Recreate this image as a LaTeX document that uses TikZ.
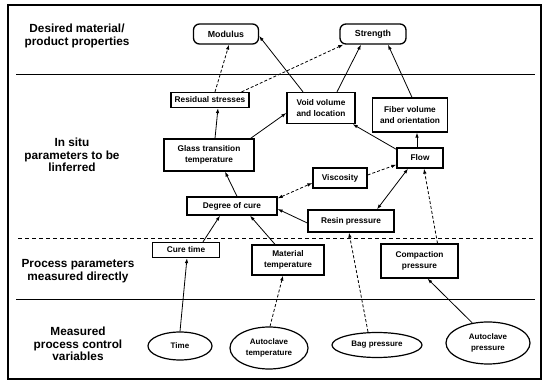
\documentclass[tikz,border=0pt]{standalone}
\usepackage{fontspec}
\setmainfont{Liberation Sans}
\usetikzlibrary{arrows.meta,shapes.geometric}
\begin{document}
\begin{tikzpicture}[x=1pt,y=-1pt,
  box/.style={draw, line width=1.3pt, inner sep=0pt, align=center, font=\bfseries\fontsize{8.3}{11.5}\selectfont},
  prop/.style={box, rounded corners=6pt, font=\bfseries\fontsize{8.8}{10}\selectfont},
  oval/.style={draw, ellipse, line width=1.2pt, inner sep=0pt, align=center, font=\bfseries\fontsize{8}{11}\selectfont},
  lbl/.style={align=center, font=\bfseries\fontsize{11.8}{12.5}\selectfont},
  arr/.style={-{Latex[length=5pt,width=3.5pt]}, line width=0.8pt},
  darr/.style={arr, dash pattern=on 3pt off 2pt},
  sep/.style={line width=0.9pt},
]
\useasboundingbox (0,0) rectangle (550,382);
\draw[line width=1.2pt] (8,5) rectangle (541,379);
\draw[sep] (16,74) -- (535,74);
\draw[sep, dash pattern=on 4pt off 3pt, line width=1pt] (18,239) -- (533,239);
\draw[sep] (16,299) -- (535,299);

% row labels
\node[lbl] (l1) at (77,36) {Desired material/\\product properties};
\node[lbl] (l2) at (72,155) {In situ\\parameters to be\\linferred};
\node[lbl] (l3) at (78,271) {Process parameters\\measured directly};
\node[lbl] (l4) at (78,344) {Measured\\process control\\variables};

% properties
\node[prop, minimum width=65pt, minimum height=20pt] (mod) at (226,34) {Modulus};
\node[prop, minimum width=66pt, minimum height=20pt] (str) at (373,34) {Strength};

% in situ
\node[box, minimum width=78pt, minimum height=15pt] (res) at (210,100) {Residual stresses};
\node[box, minimum width=68pt, minimum height=31pt] (void) at (321,108) {Void volume\\and location};
\node[box, minimum width=75pt, minimum height=34pt] (fib) at (410,115) {Fiber volume\\and orientation};
\node[box, minimum width=90pt, minimum height=32pt] (glass) at (209,155) {Glass transition\\temperature};
\node[box, minimum width=46pt, minimum height=20pt] (flow) at (420,158) {Flow};
\node[box, minimum width=54pt, minimum height=20pt] (visc) at (340,178) {Viscosity};
\node[box, minimum width=90pt, minimum height=18pt] (deg) at (232,206) {Degree of cure};
\node[box, minimum width=86pt, minimum height=22pt] (resin) at (351,221) {Resin pressure};

% process parameters
\node[box, minimum width=67pt, minimum height=15pt] (cure) at (186,250) {Cure time};
\node[box, minimum width=72pt, minimum height=30pt] (mat) at (288,260) {Material\\temperature};
\node[box, minimum width=77pt, minimum height=34pt] (comp) at (419.5,261) {Compaction\\pressure};

% control variables
\node[oval, minimum width=64pt, minimum height=28pt] (time) at (180,346) {Time};
\node[oval, minimum width=78pt, minimum height=42pt] (atemp) at (269,348) {Autoclave\\temperature};
\node[oval, minimum width=90pt, minimum height=25pt] (bag) at (377,345) {Bag pressure};
\node[oval, minimum width=84pt, minimum height=42pt] (apress) at (488,343) {Autoclave\\pressure};

% connectors
\draw[darr] ([xshift=5pt]res.north) -- ([xshift=3pt]mod.south);
\draw[darr] ([xshift=-8pt]res.north east) -- ([xshift=4pt]str.south west);
\draw[arr] ([xshift=-18pt]void.north) -- ([yshift=-2pt]mod.east);
\draw[arr] ([xshift=16pt]void.north) -- ([xshift=-12pt]str.south);
\draw[arr] ([xshift=2pt]fib.north) -- ([xshift=15pt]str.south);
\draw[arr] ([xshift=6pt]glass.north) -- ([xshift=8pt]res.south);
\draw[arr] ([xshift=-4pt]glass.north east) -- ([yshift=-5pt]void.west);
\draw[arr] ([yshift=-2pt]flow.north west) -- ([xshift=-3pt]void.south east);
\draw[arr] ([xshift=-3pt]flow.north) -- ([xshift=7pt]fib.south);
\draw[darr] ([yshift=3pt]visc.east) -- ([yshift=4pt]flow.south west);
\draw[darr, {Latex[length=5pt,width=3.5pt]}-{Latex[length=5pt,width=3.5pt]}] ([yshift=-2pt]deg.north east) -- ([yshift=-5pt]visc.west);
\draw[arr, {Latex[length=5pt,width=3.5pt]}-{Latex[length=5pt,width=3.5pt]}] ([xshift=-12pt]flow.south) -- ([xshift=26pt]resin.north);
\draw[arr] ([xshift=5pt]deg.north) -- ([xshift=16pt]glass.south);
\draw[arr] ([yshift=-2pt]resin.west) -- ([yshift=-3pt]deg.east);
\draw[arr] ([xshift=17pt]cure.north) -- ([xshift=-12pt]deg.south);
\draw[arr] ([xshift=-13pt]mat.north) -- ([xshift=18pt]deg.south);
\draw[darr] ([xshift=18pt]comp.north) -- ([xshift=4pt]flow.south);
\draw[arr] (time.north) -- ([xshift=1pt]cure.south);
\draw[darr] ([xshift=1pt]atemp.north) -- ([xshift=-5pt]mat.south);
\draw[darr] ([xshift=-9pt]bag.north) -- ([xshift=-2pt]resin.south);
\draw[arr] (apress.128) -- ([xshift=8pt]comp.south);
\end{tikzpicture}
\end{document}
